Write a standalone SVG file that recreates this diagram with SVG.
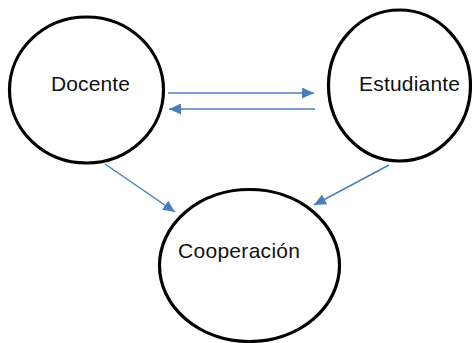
<svg xmlns="http://www.w3.org/2000/svg" width="472" height="343" viewBox="0 0 472 343">
<style>
.node{fill:#fff;stroke:#000;stroke-width:3.2}
.lbl{font-family:"Liberation Sans",Arial,sans-serif;font-size:21px;fill:#111}
.conn{stroke:#4a7ebb;stroke-width:1.5;fill:none;marker-end:url(#ah)}
</style>
<defs>
<marker id="ah" markerUnits="userSpaceOnUse" markerWidth="12" markerHeight="11" refX="12" refY="5.5" orient="auto">
<path d="M0,0 L12,5.5 L0,11 z" fill="#4a7ebb"/>
</marker>
</defs>
<rect width="472" height="343" fill="#fff"/>
<g id="docente">
<ellipse class="node" cx="86.5" cy="90" rx="77" ry="73"/>
<text class="lbl" x="51" y="91" textLength="79">Docente</text>
</g>
<g id="estudiante">
<ellipse class="node" cx="399.5" cy="85.5" rx="71" ry="75.5"/>
<text class="lbl" x="359" y="91" textLength="101">Estudiante</text>
</g>
<g id="cooperacion">
<ellipse class="node" cx="249.5" cy="265.5" rx="90" ry="76"/>
<text class="lbl" x="178" y="258" textLength="122">Cooperación</text>
</g>
<g id="connectors">
<line class="conn" x1="168" y1="93" x2="314" y2="93"/>
<line class="conn" x1="315" y1="109" x2="169" y2="109"/>
<line class="conn" x1="105" y1="164" x2="175" y2="212"/>
<line class="conn" x1="389" y1="165" x2="314" y2="205"/>
</g>
</svg>
